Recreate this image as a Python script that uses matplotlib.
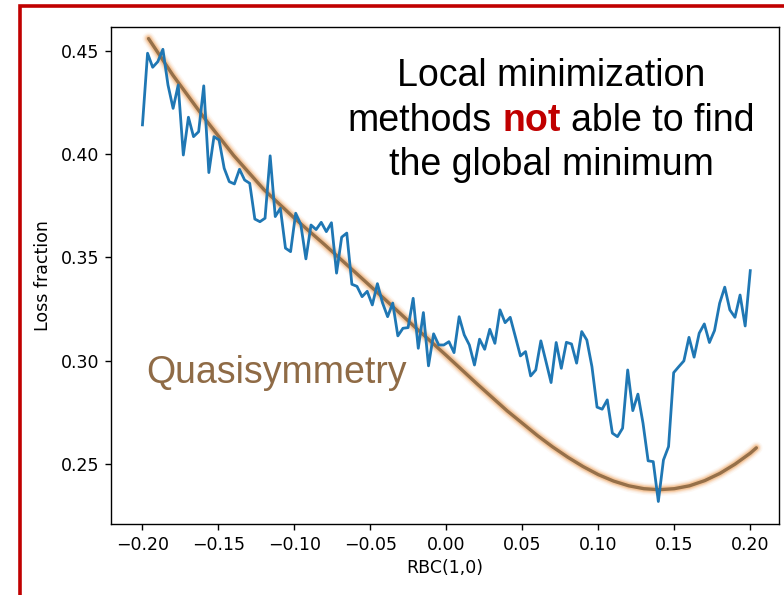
import numpy as np
import matplotlib
matplotlib.use("Agg")
import matplotlib.pyplot as plt
from matplotlib.patches import Rectangle

# Scan of the RBC(1,0) coefficient
rbc = np.linspace(-0.2, 0.2, 120)
loss_fraction = [
    0.4142, 0.4489, 0.4421, 0.4448, 0.4508, 0.4335, 0.4222, 0.4335, 0.3996, 0.4179,
    0.4085, 0.4109, 0.4331, 0.3911, 0.4085, 0.4069, 0.3932, 0.3867, 0.3856, 0.3927,
    0.3875, 0.3859, 0.3686, 0.3673, 0.3690, 0.3992, 0.3698, 0.3738, 0.3545, 0.3528,
    0.3714, 0.3660, 0.3493, 0.3657, 0.3635, 0.3670, 0.3625, 0.3668, 0.3424, 0.3598,
    0.3618, 0.3370, 0.3360, 0.3310, 0.3336, 0.3270, 0.3373, 0.3280, 0.3213, 0.3279,
    0.3120, 0.3157, 0.3160, 0.3302, 0.3060, 0.3233, 0.2975, 0.3130, 0.3076, 0.3076,
    0.3092, 0.3039, 0.3213, 0.3125, 0.3076, 0.2979, 0.3104, 0.3055, 0.3152, 0.3084,
    0.3246, 0.3184, 0.3210, 0.3117, 0.3023, 0.3044, 0.2926, 0.2955, 0.3096, 0.2996,
    0.2894, 0.3088, 0.2963, 0.3089, 0.3081, 0.2988, 0.3141, 0.3100, 0.2971, 0.2775,
    0.2765, 0.2810, 0.2649, 0.2632, 0.2673, 0.2955, 0.2758, 0.2838, 0.2697, 0.2515,
    0.2511, 0.2318, 0.2519, 0.2584, 0.2942, 0.2971, 0.2999, 0.3113, 0.3017, 0.3133,
    0.3178, 0.3088, 0.3146, 0.3278, 0.3356, 0.3246, 0.3210, 0.3318, 0.3168, 0.3436,
]

# Quasisymmetry trend curve
qs_x = [-0.196, -0.18, -0.16, -0.14, -0.12, -0.10, -0.08, -0.06, -0.04, -0.02, 0.00,
        0.02, 0.04, 0.06, 0.07, 0.08, 0.09, 0.10, 0.11, 0.12, 0.13, 0.14, 0.15, 0.16,
        0.17, 0.18, 0.19, 0.20, 0.204]
qs_y = [0.4560, 0.4383, 0.4182, 0.3994, 0.3828, 0.3690, 0.3561, 0.3428, 0.3294, 0.3158,
        0.3025, 0.2889, 0.2757, 0.2637, 0.2582, 0.2532, 0.2487, 0.2448, 0.2417, 0.2394,
        0.2380, 0.2375, 0.2380, 0.2394, 0.2419, 0.2454, 0.2499, 0.2552, 0.2578]

x_ticks = [-0.20, -0.15, -0.10, -0.05, 0.00, 0.05, 0.10, 0.15, 0.20]
y_ticks = [0.25, 0.30, 0.35, 0.40, 0.45]

W, H = 784, 595
fig = plt.figure(figsize=(W / 100, H / 100), dpi=100)
fig.patch.set_facecolor("white")

ax = fig.add_axes([111 / W, 1 - 524 / H, (779 - 111) / W, (524 - 27) / H])
ax.set_xlim(-0.2207, 0.2189)
ax.set_ylim(0.2209, 0.4616)

# glowing quasisymmetry curve
for lw, a in [(9, 0.08), (7, 0.14), (5.5, 0.22), (4.2, 0.35)]:
    ax.plot(qs_x, qs_y, color="#EFA35E", lw=lw, alpha=a, solid_capstyle="round",
            solid_joinstyle="round", zorder=2)
ax.plot(qs_x, qs_y, color="#967049", lw=2.4, solid_capstyle="round",
        solid_joinstyle="round", zorder=3)

ax.plot(rbc, loss_fraction, color="#1f77b4", lw=2.0, zorder=4)

ax.set_xticks(x_ticks)
ax.set_xticklabels([f"{v:.2f}".replace("-", "\u2212") for v in x_ticks])
ax.set_yticks(y_ticks)
ax.set_yticklabels([f"{v:.2f}" for v in y_ticks])
ax.tick_params(labelsize=12.5, length=4.5, width=1.0, pad=4)
for sp in ax.spines.values():
    sp.set_linewidth(1.0)
ax.set_xlabel("RBC(1,0)", fontsize=12.5, labelpad=4)
ax.set_ylabel("Loss fraction", fontsize=12.5, labelpad=6)

# annotations
big = dict(fontsize=27, family=["Liberation Sans", "DejaVu Sans"], va="baseline")
fig.text(551 / W, 1 - 86 / H, "Local minimization", ha="center", color="black", **big)
fig.text(551 / W, 1 - 175 / H, "the global minimum", ha="center", color="black", **big)
fig.text(277 / W, 1 - 383 / H, "Quasisymmetry", ha="center", color="#8F6B46", **big)

t1 = fig.text(0, 1 - 131 / H, "methods", ha="left", color="black", **big)
t2 = fig.text(0, 1 - 131 / H, "not", ha="left", color="#C00000", fontweight="bold", **big)
t3 = fig.text(0, 1 - 131 / H, "able to find", ha="left", color="black", **big)
fig.canvas.draw()
r = fig.canvas.get_renderer()
w1 = t1.get_window_extent(r).width
w2 = t2.get_window_extent(r).width
w3 = t3.get_window_extent(r).width
gap = 0.278 * 27 * 100 / 72
total = w1 + w2 + w3 + 2 * gap
x0 = 551 - total / 2
t1.set_x(x0 / W)
t2.set_x((x0 + w1 + gap) / W)
t3.set_x((x0 + w1 + w2 + 2 * gap) / W)

# slide frame
fig.add_artist(Rectangle((20 / W, -0.1), 2.0, 1 - 6 / H + 0.1, transform=fig.transFigure,
                         fill=False, edgecolor="#C00000", lw=2.6, zorder=10))

fig.savefig("out.png", dpi=100)
